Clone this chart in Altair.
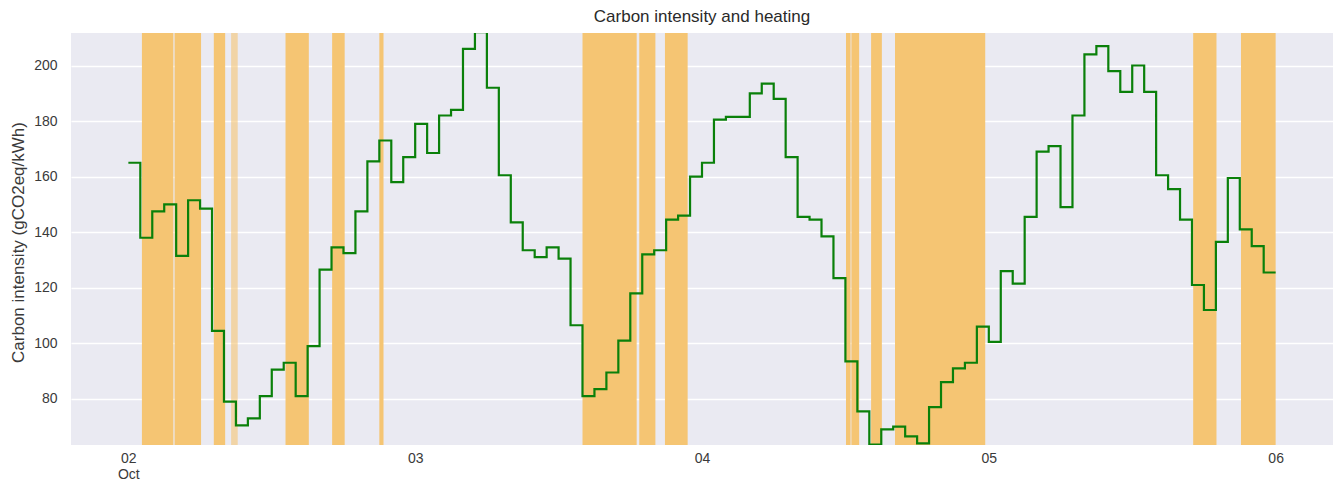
import altair as alt
import pandas as pd

# ---- data ----
start_time = "2022-10-02 00:00"
# hourly carbon intensity (gCO2eq/kWh), Oct 02 00:00 .. Oct 06 00:00
intensity = [
    165, 138, 147.5, 150, 131.5, 151.5, 148.5, 104.5, 79, 70.5, 73, 81, 90.5, 93, 81, 99,
    126.5, 134.5, 132.5, 147.5, 165.5, 173, 158, 167, 179, 168.5, 182, 184, 206, 212, 192, 160.5,
    143.5, 133.5, 131, 134.5, 130.5, 106.5, 81, 83.5, 89.5, 101, 118, 132, 133.5, 144.5, 146, 160,
    165, 180.5, 181.5, 181.5, 190, 193.5, 188, 167, 145.5, 144.5, 138.5, 123.5, 93.5, 75.5, 63.5, 69,
    70, 66.5, 64, 77, 86, 91, 93, 106, 100.5, 126, 121.5, 145.5, 169, 171, 149, 182,
    204, 207, 198, 190.5, 200, 190.5, 160.5, 155.5, 144.5, 121, 112, 136.5, 159.5, 141, 135, 125.5,
    125.5,
]
# heating periods
heat_start = [
    "2022-10-02T01:08:00Z", "2022-10-02T03:52:00Z", "2022-10-02T07:09:00Z", "2022-10-02T08:36:00Z",
    "2022-10-02T13:09:00Z", "2022-10-02T17:03:00Z", "2022-10-02T21:00:00Z", "2022-10-03T14:00:00Z",
    "2022-10-03T18:45:00Z", "2022-10-03T20:54:00Z", "2022-10-04T12:03:00Z", "2022-10-04T12:30:00Z",
    "2022-10-04T14:09:00Z", "2022-10-04T16:09:00Z", "2022-10-05T17:06:00Z", "2022-10-05T21:06:00Z",
]
heat_end = [
    "2022-10-02T03:46:00Z", "2022-10-02T06:05:00Z", "2022-10-02T08:06:00Z", "2022-10-02T09:09:00Z",
    "2022-10-02T15:06:00Z", "2022-10-02T18:06:00Z", "2022-10-02T21:21:00Z", "2022-10-03T18:32:00Z",
    "2022-10-03T20:06:00Z", "2022-10-03T22:48:00Z", "2022-10-04T12:26:00Z", "2022-10-04T13:09:00Z",
    "2022-10-04T15:03:00Z", "2022-10-04T23:42:00Z", "2022-10-05T19:03:00Z", "2022-10-06T00:00:00Z",
]
heat_shade = [1, 1, 1, 0.6, 1, 1, 1, 1, 1, 1, 1, 1, 1, 1, 1, 1]
y_ticks = [80, 100, 120, 140, 160, 180, 200]
day_ticks = [2, 3, 4, 5, 6]

times = pd.date_range(start_time, periods=len(intensity), freq="h").strftime("%Y-%m-%dT%H:%M:%SZ")
line_df = pd.DataFrame({"time": list(times), "intensity": intensity})
span_df = pd.DataFrame({"start": heat_start, "end": heat_end, "shade": heat_shade})

W, H = 1262, 412
FONT = "Liberation Sans"
TXT = "#3a3a3a"

x_scale = alt.Scale(
    type="utc",
    domain=[
        alt.DateTime(year=2022, month=10, date=1, hours=19, minutes=12, utc=True),
        alt.DateTime(year=2022, month=10, date=6, hours=4, minutes=48, utc=True),
    ],
)
y_scale = alt.Scale(domain=[63.4, 211.7], nice=False, zero=False)

x_axis = alt.Axis(
    values=[alt.DateTime(year=2022, month=10, date=d, utc=True) for d in day_ticks],
    labelExpr="utcFormat(datum.value, '%d') == '02' ? ['02', 'Oct'] : utcFormat(datum.value, '%d')",
    grid=False, ticks=False, domain=False,
    labelPadding=6, labelFontSize=14, labelLineHeight=16, labelColor=TXT, labelFont=FONT,
    title=None,
)
y_axis = alt.Axis(
    values=y_ticks, grid=True, gridColor="white", gridWidth=1.5,
    ticks=False, domain=False, labelPadding=14, labelFontSize=14, labelColor=TXT, labelFont=FONT,
    title="Carbon intensity (gCO2eq/kWh)", titleFontSize=17, titleFontWeight="normal",
    titleColor=TXT, titleFont=FONT, titleAngle=270, titleAlign="center", titleBaseline="middle",
    titleX=-53, titleY=H / 2 + 3,
)

spans = alt.Chart(span_df).mark_rect(color="#F5C573").encode(
    x=alt.X("start:T", scale=x_scale, axis=x_axis),
    x2="end:T",
    y=alt.value(0),
    y2=alt.value(H),
    opacity=alt.Opacity("shade:Q", scale=None, legend=None),
)

line = alt.Chart(line_df).mark_line(
    interpolate="step-after", color="#0a800a", strokeWidth=2.2, clip=True
).encode(
    x=alt.X("time:T", scale=x_scale, axis=x_axis),
    y=alt.Y("intensity:Q", scale=y_scale, axis=y_axis),
)

chart = alt.layer(spans, line).properties(
    width=W,
    height=H,
    autosize=alt.AutoSizeParams(type="none"),
    padding={"left": 63, "top": 25, "right": 0, "bottom": 35},
    title=alt.Title("Carbon intensity and heating", fontSize=17, fontWeight="normal",
                    font=FONT, color="#2a2a2a", offset=7, anchor="middle"),
).configure(
    font=FONT, background="white"
).configure_view(
    fill="#EAEAF2", strokeWidth=0
)

chart.save("out.html", embed_options={"renderer": "svg", "actions": False})
